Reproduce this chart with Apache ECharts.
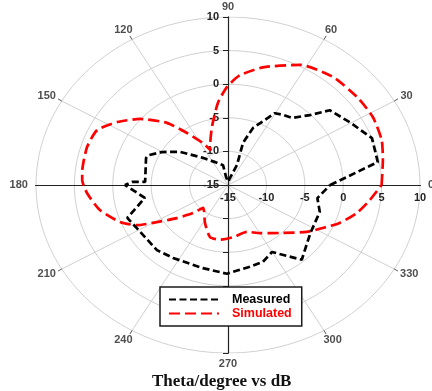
<!DOCTYPE html>
<html>
<head>
<meta charset="utf-8">
<script src="https://cdn.jsdelivr.net/npm/echarts@6/dist/echarts.min.js"></script>
<style>
html,body{margin:0;padding:0;background:#fff}
#c{width:432px;height:391px}
</style>
</head>
<body>
<div id="c"></div>
<script>
// Radiation pattern, angle in degrees and gain in dB, listed along each trace
const measuredAngle = [0, 9.9, 20.4, 30.5, 40, 44.3, 50.1, 55, 60.3, 69, 72.7, 68.6, 90, 102, 102.3, 116.3, 129, 141.8, 150.3, 157, 159.4, 177.6, 177.9, 180, 190.1, 200.5, 208.4, 226.3, 236.6, 255.2, 269.4, 283.2, 291.7, 299.9, 310.8, 326.2, 341.5, 350.5, 360];
const measuredGain  = [-1.7, 4.8, 5.0, 3.4, 2.3, -0.1, -2.0, -2.3, -2.7, -5.9, -8.4, -11.8, -14.5, -13.8, -12.0, -11.2, -9.8, -7.0, -5.1, -3.7, -3.6, -4.2, -2.5, -1.6, -4.0, -1.0, -1.5, -1.6, -2.0, -2.2, -1.8, -2.5, -2.7, -3.5, -0.3, -2.1, -2.4, -3.2, -1.7];

const simulatedAngle = [0, 10.4, 18.5, 28.2, 37.9, 49.6, 62.3, 75.4, 84.6, 90.5, 96.1, 103.6, 112.5, 113.5, 117.5, 124.6, 130.7, 139.4, 147, 154.4, 162.9, 173.3, 177.8, 183.7, 192.6, 201.4, 206.7, 210.8, 216.5, 222.4, 226.4, 242.1, 253.2, 262.8, 274.8, 289.5, 300.3, 315.1, 325.8, 332.6, 338.8, 346.1, 353.1, 360];
const simulatedGain  = [5.0, 5.5, 6.1, 6.4, 6.3, 6.1, 5.2, 3.1, 1.4, -0.4, -2.7, -6.1, -8.9, -9.4, -8.0, -5.6, -2.8, 0.1, 2.2, 3.9, 4.2, 4.1, 4.0, 3.4, 2.1, 0.1, -1.7, -4.2, -6.7, -8.8, -10.3, -8.6, -6.9, -6.8, -7.2, -7.6, -6.7, -4.9, -2.6, -1.1, 0.6, 2.3, 3.6, 5.0];

// Radial scale and grid
const gainMin = -15;
const gainMax = 10;
const gainStep = 5;
const ringLevels = [-10, -5, 0, 5, 10];
const angleTicks = [0, 30, 60, 90, 120, 150, 180, 210, 240, 270, 300, 330];

const R = gainMax - gainMin;
const rad = d => d * Math.PI / 180;
const toXY = (deg, g) => {
  const r = g - gainMin;
  return [r * Math.cos(rad(deg)), r * Math.sin(rad(deg))];
};
const trace = (angles, gains) => angles.map((a, i) => toXY(a, gains[i]));

const plotW = 384, plotH = 336;
const labelFont = { fontFamily: 'Liberation Sans', fontWeight: 'bold', fontSize: 11, color: '#222' };

// concentric gain rings
const ringSeries = ringLevels.map(level => {
  const pts = [];
  for (let a = 0; a <= 360; a += 2) pts.push(toXY(a, level));
  return {
    type: 'line', data: pts, symbol: 'none', silent: true, z: 1,
    lineStyle: { color: '#d0d0d0', width: 1 }, animation: false
  };
});

// spokes from the centre to the outer ring
const spokeSeries = {
  type: 'lines', coordinateSystem: 'cartesian2d', silent: true, z: 1, animation: false,
  lineStyle: { color: '#d0d0d0', width: 1, opacity: 1 },
  data: angleTicks.map(a => ({ coords: [[0, 0], toXY(a, gainMax)] }))
};

// short ticks just outside the outer ring
const tickSeries = {
  type: 'lines', coordinateSystem: 'cartesian2d', silent: true, z: 2, animation: false,
  lineStyle: { color: '#555', width: 1, opacity: 1 },
  data: angleTicks.map(a => {
    const p = toXY(a, gainMax);
    return { coords: [p, [p[0] + Math.cos(rad(a)) * 0.55, p[1] + Math.sin(rad(a)) * 0.62]] };
  })
};

// angle labels around the rim
const angleLabelSeries = {
  type: 'scatter', symbolSize: 1, silent: true, clip: false, z: 3, animation: false,
  itemStyle: { color: 'rgba(0,0,0,0)' },
  data: angleTicks.map(a => {
    const txt = String(a);
    const ox = 8 + txt.length * 3.1;
    const oy = 10.5;
    return {
      value: toXY(a, gainMax - 0.001),
      label: {
        show: true, position: 'inside', formatter: txt,
        offset: [Math.cos(rad(a)) * ox, -Math.sin(rad(a)) * oy],
        ...labelFont
      }
    };
  })
};

const chart = echarts.init(document.getElementById('c'), null, { renderer: 'canvas' });
chart.setOption({
  animation: false,
  backgroundColor: '#fff',
  title: {
    text: 'Theta/degree vs dB', left: 152, top: 373, padding: 0,
    textStyle: { fontFamily: 'Liberation Serif', fontWeight: 'bold', fontSize: 17, color: '#111' }
  },
  legend: {
    data: [
      { name: 'Measured', textStyle: { color: '#000' } },
      { name: 'Simulated', textStyle: { color: '#ff0000' } }
    ],
    orient: 'vertical', left: 160, top: 287, padding: [6, 10, 6, 8],
    itemWidth: 50, itemHeight: 14, itemGap: 1,
    itemStyle: { opacity: 0 },
    borderColor: '#1a1a1a', borderWidth: 1.5, backgroundColor: '#fff',
    selectedMode: false, z: 10,
    textStyle: { fontFamily: 'Liberation Sans', fontWeight: 'bold', fontSize: 12.5, padding: [0, 0, 0, 8] }
  },
  grid: { left: 36, right: 12, top: 17, bottom: 38, outerBoundsMode: 'none' },
  xAxis: {
    type: 'value', min: -R, max: R, interval: gainStep, z: 3,
    position: 'bottom', offset: -plotH / 2,
    axisLine: { onZero: false, lineStyle: { color: '#222', width: 1.2 } },
    axisTick: { show: false },
    splitLine: { show: false },
    axisLabel: { margin: 7, formatter: v => (v >= 0 ? String(v + gainMin) : ''), ...labelFont }
  },
  yAxis: {
    type: 'value', min: -R, max: R, interval: gainStep, z: 3,
    position: 'left', offset: -plotW / 2,
    axisLine: { onZero: false, lineStyle: { color: '#222', width: 1.2 } },
    axisTick: { show: true, length: 5, lineStyle: { color: '#222' } },
    splitLine: { show: false },
    axisLabel: { margin: 9, formatter: v => (v >= 0 ? String(v + gainMin) : ''), ...labelFont }
  },
  series: [
    ...ringSeries,
    spokeSeries,
    tickSeries,
    angleLabelSeries,
    {
      name: 'Simulated', type: 'line', symbol: 'none', z: 5, smooth: 0.2,
      data: trace(simulatedAngle, simulatedGain),
      lineStyle: { color: '#ff0000', width: 2.7, type: [11, 5] },
      itemStyle: { color: '#ff0000' }
    },
    {
      name: 'Measured', type: 'line', symbol: 'none', z: 6,
      data: trace(measuredAngle, measuredGain),
      lineStyle: { color: '#000', width: 2.7, type: [7, 3.5] },
      itemStyle: { color: '#000' }
    }
  ]
});
</script>
</body>
</html>
